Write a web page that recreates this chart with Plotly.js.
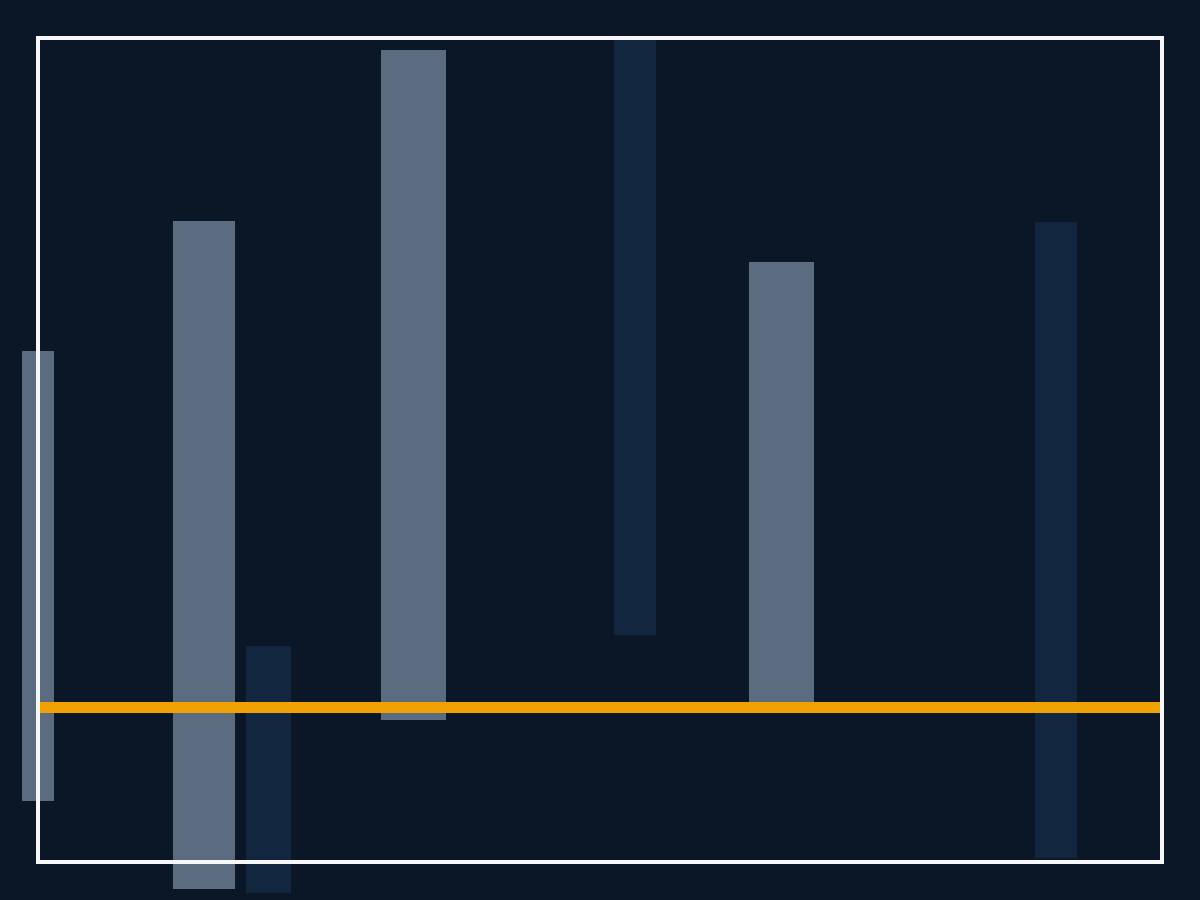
<!DOCTYPE html>
<html>
<head>
<meta charset="utf-8">
<script src="https://cdn.plot.ly/plotly-3.0.1.min.js"></script>
<style>html,body{margin:0;padding:0;background:#0b1626;}#chart{width:1200px;height:900px;}</style>
</head>
<body>
<div id="chart"></div>
<script>
// Light bars
const lightX = [3.8, 20.4, 41.35, 78.15];
const lightWidth = [3.2, 6.2, 6.5, 6.5];
const lightBase = [-9.35, -18.15, -1.25, 0];
const lightTop = [35.65, 48.65, 65.75, 44.55];
// Dark bars
const darkX = [26.85, 63.5, 105.6];
const darkWidth = [4.5, 4.2, 4.2];
const darkBase = [-18.55, 7.25, -15.05];
const darkTop = [6.15, 66.95, 48.55];
// Reference line and frame
const refLineX = [3.8, 116.2];
const refLineY = [0, 0];
const frameX = [3.8, 116.2];
const frameY = [-15.45, 66.95];

const traces = [
  {
    type: 'bar', x: lightX, base: lightBase,
    y: lightTop.map((t, i) => t - lightBase[i]),
    width: lightWidth,
    marker: {color: '#5b6b80', line: {width: 0}},
    hoverinfo: 'skip'
  },
  {
    type: 'bar', x: darkX, base: darkBase,
    y: darkTop.map((t, i) => t - darkBase[i]),
    width: darkWidth,
    marker: {color: '#13263f', line: {width: 0}},
    hoverinfo: 'skip'
  },
  {
    type: 'scatter', mode: 'lines', x: refLineX, y: refLineY,
    line: {color: '#f0a202', width: 11},
    hoverinfo: 'skip'
  }
];

const layout = {
  width: 1200, height: 900,
  margin: {l: 0, r: 0, t: 0, b: 0, pad: 0},
  paper_bgcolor: '#0b1626', plot_bgcolor: '#0b1626',
  showlegend: false,
  barmode: 'overlay',
  xaxis: {range: [0, 120], visible: false, fixedrange: true},
  yaxis: {range: [-19.25, 70.75], visible: false, fixedrange: true},
  shapes: [{
    type: 'rect', xref: 'x', yref: 'y', layer: 'above',
    x0: frameX[0], x1: frameX[1], y0: frameY[0], y1: frameY[1],
    line: {color: '#f7f7f7', width: 4}, fillcolor: 'rgba(0,0,0,0)'
  }]
};

Plotly.newPlot('chart', traces, layout, {displayModeBar: false, staticPlot: true});
</script>
</body>
</html>
